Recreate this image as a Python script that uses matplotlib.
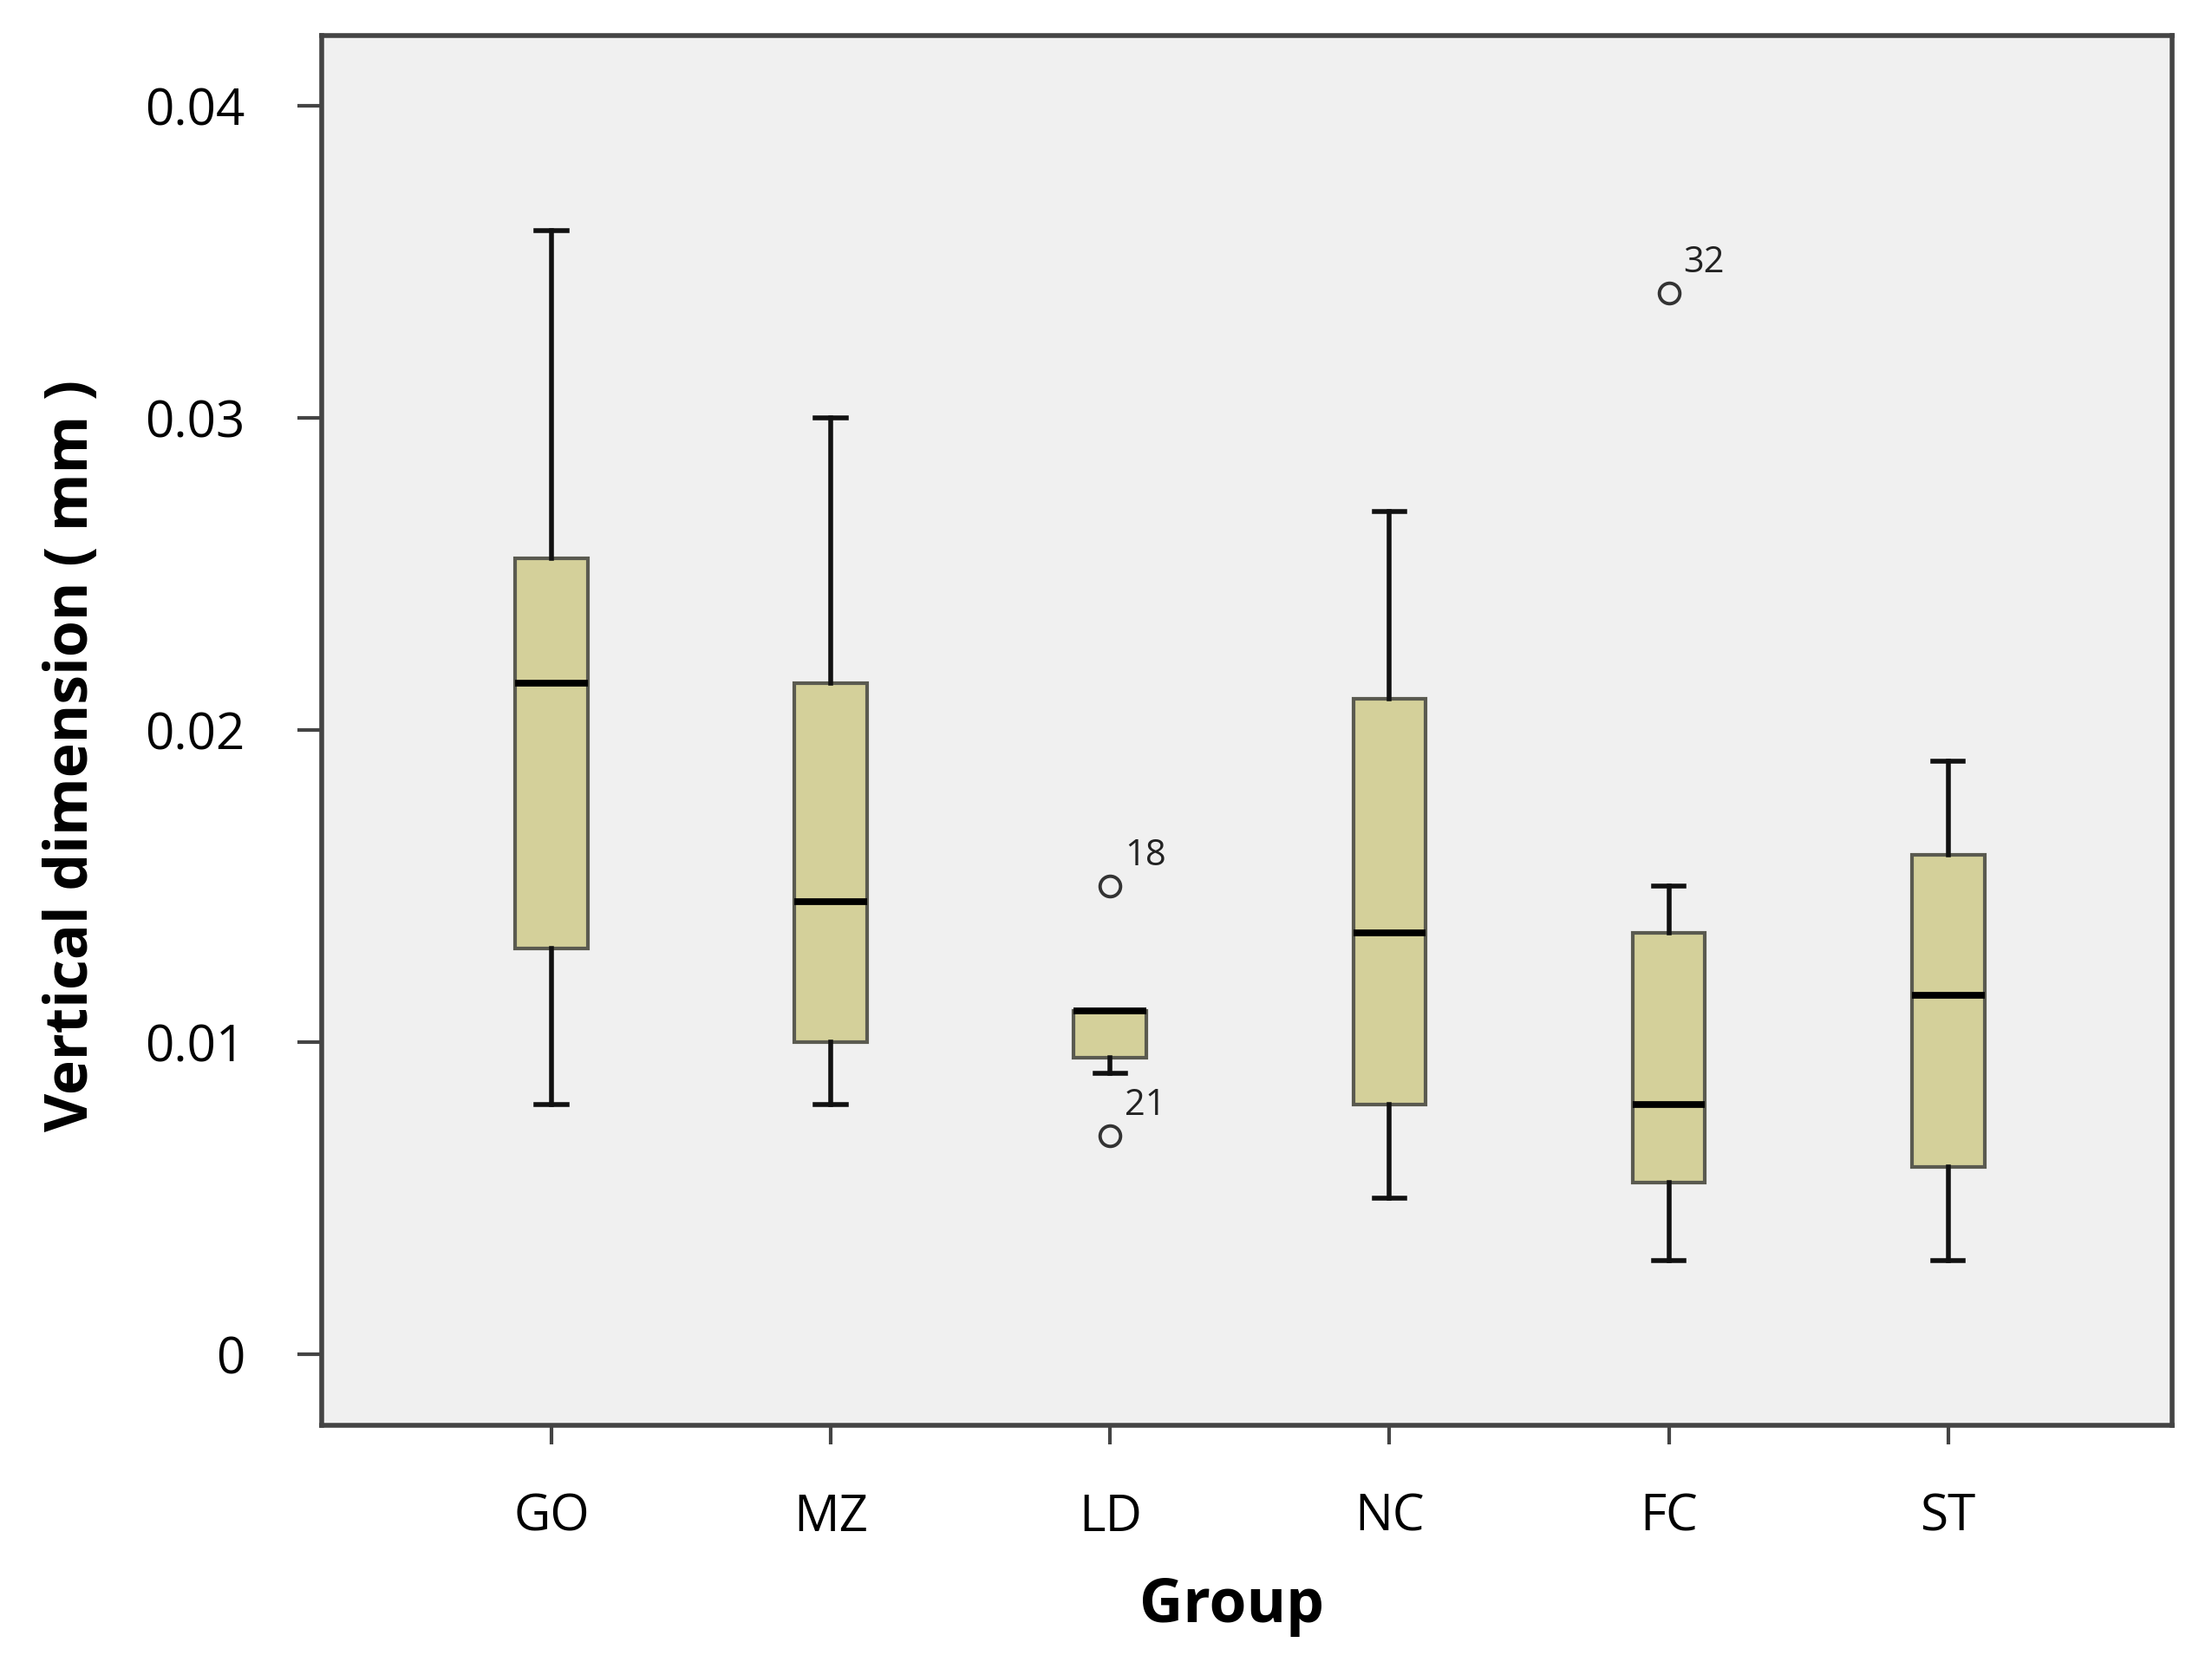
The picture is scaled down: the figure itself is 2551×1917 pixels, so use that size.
import numpy as np
import matplotlib
matplotlib.use('Agg')
import matplotlib.pyplot as plt

plt.rcParams['font.family'] = ['Open Sans', 'DejaVu Sans']

# data
groups = ['GO', 'MZ', 'LD', 'NC', 'FC', 'ST']
whislo = [0.008, 0.008, 0.009, 0.005, 0.003, 0.003]
q1 = [0.013, 0.010, 0.0095, 0.008, 0.0055, 0.006]
med = [0.0215, 0.0145, 0.011, 0.0135, 0.008, 0.0115]
q3 = [0.0255, 0.0215, 0.011, 0.021, 0.0135, 0.016]
whishi = [0.036, 0.030, 0.011, 0.027, 0.015, 0.019]
fliers = [[], [], [0.015, 0.007], [], [0.034], []]
flier_ids = [[], [], ['18', '21'], [], ['32'], []]

stats = []
for i in range(len(groups)):
    stats.append({'label': groups[i], 'whislo': whislo[i], 'q1': q1[i], 'med': med[i],
                  'q3': q3[i], 'whishi': whishi[i], 'fliers': fliers[i]})

fig = plt.figure(figsize=(12.755, 9.585), dpi=200)
ax = fig.add_axes([0.1454, 0.1426, 0.9821 - 0.1454, 0.9788 - 0.1426])
ax.set_facecolor('#f0f0f0')

pos = np.arange(len(groups))
ax.bxp(stats, positions=pos, widths=0.26, patch_artist=True, capwidths=0.11,
       boxprops=dict(facecolor='#d4d09a', edgecolor='#5a5a50', linewidth=1.5),
       medianprops=dict(color='black', linewidth=2.8),
       whiskerprops=dict(color='#111111', linewidth=2.0),
       capprops=dict(color='#111111', linewidth=2.0),
       flierprops=dict(marker='o', markersize=8.5, markerfacecolor='none',
                       markeredgecolor='#333333', markeredgewidth=1.4))

for i in range(len(groups)):
    for v, lab in zip(fliers[i], flier_ids[i]):
        ax.annotate(lab, xy=(pos[i], v), xytext=(6, 5), textcoords='offset points',
                    ha='left', va='bottom', fontsize=15, color='#222222')

ax.set_xlim(-0.823, 5.803)
ax.set_ylim(-0.00226, 0.04226)
ax.set_xticks(pos)
ax.set_xticklabels(groups)
ax.set_yticks([0, 0.01, 0.02, 0.03, 0.04])
ax.set_yticklabels(['0', '0.01', '0.02', '0.03', '0.04'])
ax.tick_params(axis='y', length=10, width=1.5, color='#444444', pad=22, labelsize=21)
ax.tick_params(axis='x', length=8, width=1.5, color='#444444', pad=20, labelsize=21)

for s in ax.spines.values():
    s.set_color('#444444')
    s.set_linewidth(2.0)

ax.set_xlabel('Group', fontsize=25, fontweight='bold', va='top')
ax.set_ylabel('Vertical dimension ( mm )', fontsize=24.5, fontweight='bold')
ax.xaxis.set_label_coords(0.4916, -0.1086)
ax.yaxis.set_label_coords(-0.119, 0.482)

fig.savefig('out.png', dpi=200, facecolor='white')
